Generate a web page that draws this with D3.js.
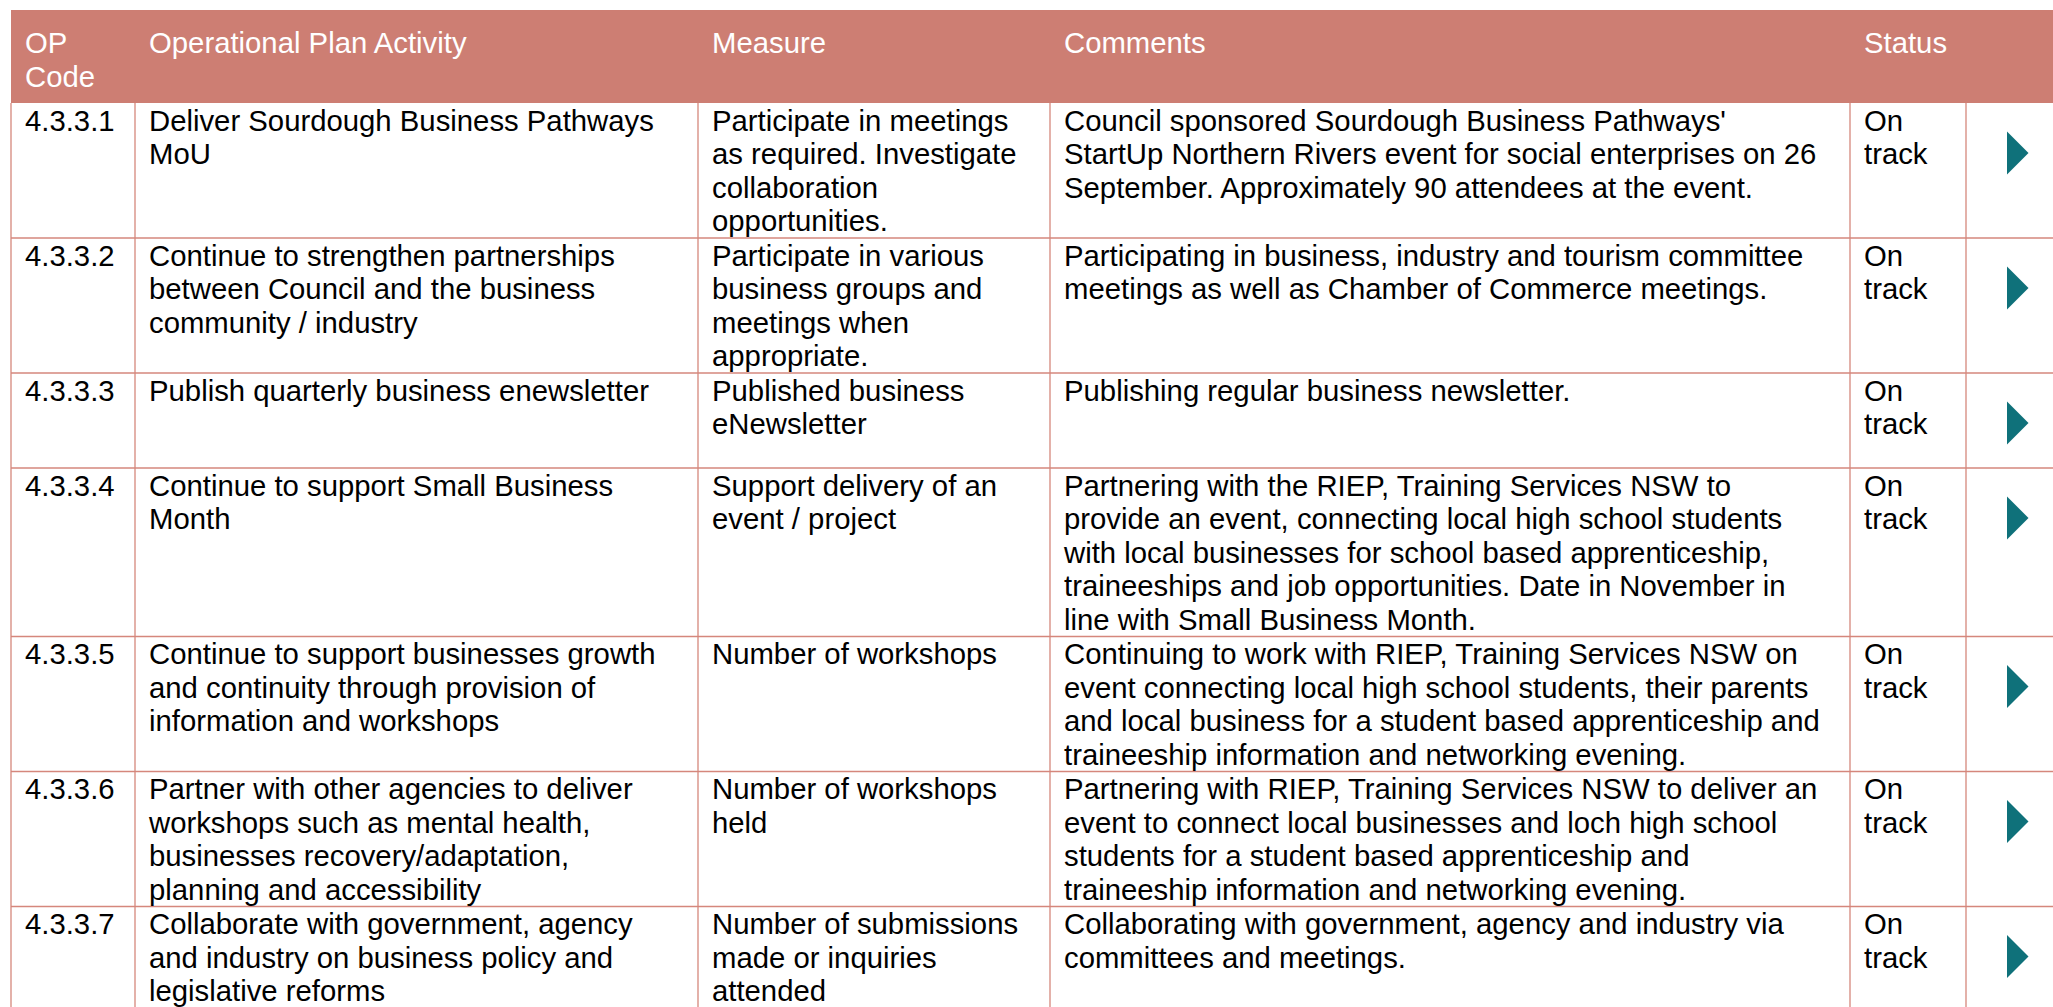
<!DOCTYPE html>
<html>
<head>
<meta charset="utf-8">
<script src="https://cdn.jsdelivr.net/npm/d3@7"></script>
<style>
html,body{margin:0;padding:0;background:#fff;overflow:hidden;}
svg{display:block;}
</style>
</head>
<body>
<svg id="chart" width="2053" height="1007"></svg>
<script>
// ---- data ----
const headers = ["OP\nCode", "Operational Plan Activity", "Measure", "Comments", "Status", ""];
const codes = ["4.3.3.1", "4.3.3.2", "4.3.3.3", "4.3.3.4", "4.3.3.5", "4.3.3.6", "4.3.3.7"];
const activities = [
  "Deliver Sourdough Business Pathways\nMoU",
  "Continue to strengthen partnerships\nbetween Council and the business\ncommunity / industry",
  "Publish quarterly business enewsletter",
  "Continue to support Small Business\nMonth",
  "Continue to support businesses growth\nand continuity through provision of\ninformation and workshops",
  "Partner with other agencies to deliver\nworkshops such as mental health,\nbusinesses recovery/adaptation,\nplanning and accessibility",
  "Collaborate with government, agency\nand industry on business policy and\nlegislative reforms"
];
const measures = [
  "Participate in meetings\nas required. Investigate\ncollaboration\nopportunities.",
  "Participate in various\nbusiness groups and\nmeetings when\nappropriate.",
  "Published business\neNewsletter",
  "Support delivery of an\nevent / project",
  "Number of workshops",
  "Number of workshops\nheld",
  "Number of submissions\nmade or inquiries\nattended"
];
const comments = [
  "Council sponsored Sourdough Business Pathways'\nStartUp Northern Rivers event for social enterprises on 26\nSeptember. Approximately 90 attendees at the event.",
  "Participating in business, industry and tourism committee\nmeetings as well as Chamber of Commerce meetings.",
  "Publishing regular business newsletter.",
  "Partnering with the RIEP, Training Services NSW to\nprovide an event, connecting local high school students\nwith local businesses for school based apprenticeship,\ntraineeships and job opportunities. Date in November in\nline with Small Business Month.",
  "Continuing to work with RIEP, Training Services NSW on\nevent connecting local high school students, their parents\nand local business for a student based apprenticeship and\ntraineeship information and networking evening.",
  "Partnering with RIEP, Training Services NSW to deliver an\nevent to connect local businesses and loch high school\nstudents for a student based apprenticeship and\ntraineeship information and networking evening.",
  "Collaborating with government, agency and industry via\ncommittees and meetings."
];
const statuses = ["On\ntrack", "On\ntrack", "On\ntrack", "On\ntrack", "On\ntrack", "On\ntrack", "On\ntrack"];
// relative column widths (Op code, activity, measure, comments, status, arrow)
const colWidths = [124, 563, 352, 800, 116, 120];

// ---- style ----
const headerBg = "#CD7E73";
const lineColor = "#D5877C";
const arrowColor = "#0F717A";
const fontSize = 29.3;
const lineH = 33.5;
const padX = 14;
const tableLeft = 11, tableTop = 10;
const headerH = 93;
const minRowH = 95;

const svg = d3.select("#chart");
const font = "'Liberation Sans', Arial, sans-serif";

// column scale via cumulative widths
const colStarts = d3.cumsum([0].concat(colWidths));
const x = d3.scaleLinear().domain([0, colStarts[colStarts.length-1]]).range([tableLeft, tableLeft + colStarts[colStarts.length-1]]);

const rows = codes.map((c, i) => ({
  cells: [c, activities[i], measures[i], comments[i], statuses[i], null]
}));
rows.forEach(r => {
  const n = d3.max(r.cells, c => c ? c.split("\n").length : 1);
  r.h = Math.max(minRowH, n * lineH + 1);
});
let yAcc = tableTop + headerH;
rows.forEach(r => { r.y = yAcc; yAcc += r.h; });

// header
svg.append("rect").attr("x", tableLeft).attr("y", tableTop)
  .attr("width", 2053 - tableLeft + 10).attr("height", headerH).attr("fill", headerBg);

headers.forEach((h, j) => {
  if (!h) return;
  const t = svg.append("text").attr("font-family", font).attr("font-size", fontSize).attr("fill", "#fff");
  h.split("\n").forEach((ln, k) => {
    t.append("tspan").attr("x", x(colStarts[j]) + padX).attr("y", tableTop + 43 + k * lineH).text(ln);
  });
});

// body rows
const g = svg.append("g");
rows.forEach((r, i) => {
  g.append("line").attr("x1", tableLeft).attr("x2", 2060)
    .attr("y1", r.y + r.h).attr("y2", r.y + r.h)
    .attr("stroke", lineColor).attr("stroke-width", 1.3);
  r.cells.forEach((c, j) => {
    if (c === null) {
      const cx = x(colStarts[j]) + 41;
      const cy = r.y + 50;
      g.append("path")
        .attr("d", d3.line()([[cx, cy - 21.5], [cx + 21.5, cy], [cx, cy + 21.5]]) + "Z")
        .attr("fill", arrowColor);
      return;
    }
    const t = g.append("text").attr("font-family", font).attr("font-size", fontSize).attr("fill", "#000");
    c.split("\n").forEach((ln, k) => {
      t.append("tspan").attr("x", x(colStarts[j]) + padX).attr("y", r.y + 27.8 + k * lineH).text(ln);
    });
  });
});

// vertical lines
const bodyTop = tableTop + headerH;
colStarts.slice(0, colStarts.length - 1).forEach((cs, j) => {
  g.append("line").attr("x1", x(cs)).attr("x2", x(cs))
    .attr("y1", bodyTop).attr("y2", 1010)
    .attr("stroke", lineColor).attr("stroke-width", 1.3);
});
</script>
</body>
</html>
